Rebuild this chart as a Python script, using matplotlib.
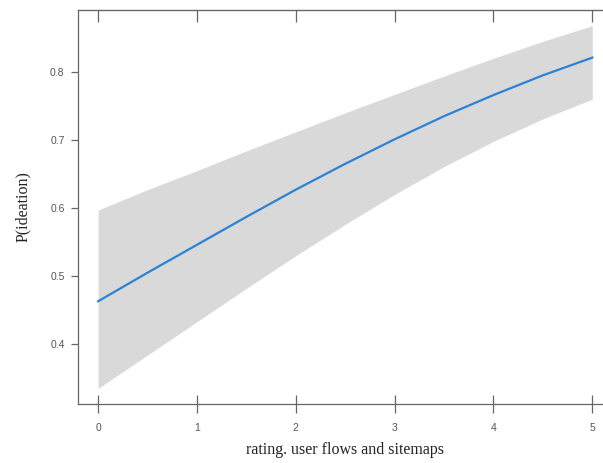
import matplotlib.pyplot as plt

# --- data ---
rating = [0, 0.5, 1, 1.5, 2, 2.5, 3, 3.5, 4, 4.5, 5]
p_fit = [0.463, 0.505, 0.546, 0.587, 0.627, 0.665, 0.701, 0.735, 0.766, 0.795, 0.821]
p_upper = [0.597, 0.627, 0.655, 0.684, 0.712, 0.740, 0.767, 0.794, 0.820, 0.845, 0.868]
p_lower = [0.335, 0.384, 0.433, 0.482, 0.530, 0.576, 0.620, 0.661, 0.698, 0.731, 0.760]
x_ticks = [0, 1, 2, 3, 4, 5]
y_ticks = [0.4, 0.5, 0.6, 0.7, 0.8]

fig = plt.figure(figsize=(6.03, 4.63), dpi=100)
# right edge is cropped off in the original, so the axes run past the figure
ax = fig.add_axes([0.130, 0.1274, 0.885, 0.851])

ax.fill_between(rating, p_lower, p_upper, color='#d9d9d9', linewidth=0)
ax.plot(rating, p_fit, color='#2b83d6', linewidth=1.6)

ax.set_xlim(-0.2, 5.2)
ax.set_ylim(0.312, 0.891)
ax.set_xticks(x_ticks)
ax.set_yticks(y_ticks)
ax.set_xticklabels([str(t) for t in x_ticks])
ax.set_yticklabels([f'{t:.1f}' for t in y_ticks])

for s in ax.spines.values():
    s.set_color('#666666')
    s.set_linewidth(0.9)

ax.tick_params(axis='x', direction='inout', length=13, width=0.9, color='#666666',
               labelsize=7.5, labelcolor='#555555', pad=7)
ax.tick_params(axis='y', direction='out', length=5, width=0.9, color='#666666',
               labelsize=7.5, labelcolor='#555555', pad=5)

top = ax.secondary_xaxis('top')
top.set_xticks(x_ticks)
top.tick_params(direction='in', length=8.5, width=0.9, color='#666666', labeltop=False)
top.spines['top'].set_color('#666666')

label_font = dict(family='Liberation Serif', size=11.5, color='#222222')
ax.set_ylabel('P(ideation)', labelpad=14, **label_font)
ax.set_xlabel('rating. user flows and sitemaps', labelpad=7, **label_font)

for lab in ax.get_xticklabels() + ax.get_yticklabels():
    lab.set_family('Liberation Sans')

fig.savefig('out.png', dpi=100)
